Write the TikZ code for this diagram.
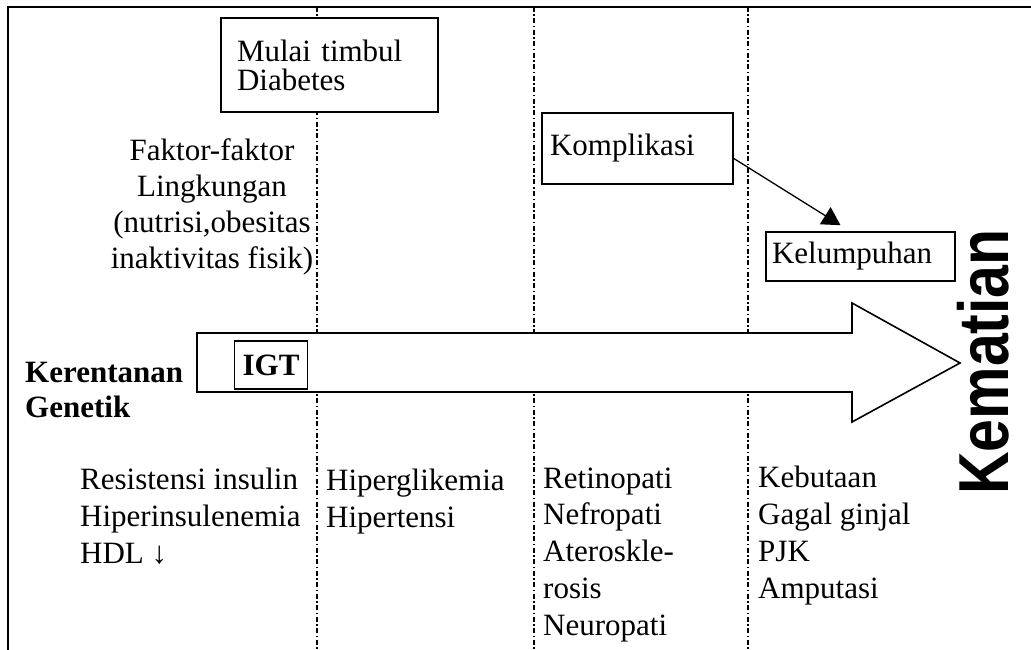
\documentclass[tikz,border=0pt]{standalone}
\usepackage{fontspec}
\setmainfont{Liberation Serif}
\newfontfamily\kemfont{Liberation Sans}
\usetikzlibrary{arrows.meta}
\begin{document}
\begin{tikzpicture}[x=1pt,y=-1pt,
  txt/.style={font=\fontsize{31}{36.7}\selectfont, inner sep=0pt, align=left},
  boxn/.style={draw, line width=1.6pt, fill=white, font=\fontsize{31}{29}\selectfont, align=left, inner sep=0pt},
  guide/.style={line width=1.4pt, dash pattern=on 5pt off 2.5pt on 1.5pt off 2.5pt},
  frame/.style={line width=2pt}]
\useasboundingbox (0,0) rectangle (1031,650);
% frame
\coordinate (tl) at (8,7);
\coordinate (tr) at (1031,7);
\coordinate (bl) at (8,650);
\draw[frame] (bl) -- (tl) -- (tr);
% guide lines
\foreach \gx/\gn in {317/ga,534/gb,748/gc}{
  \coordinate (\gn t) at (\gx,7);
  \coordinate (\gn b) at (\gx,650);
  \draw[guide] (\gn t) -- (\gn b);
}
% big arrow
\draw[line width=1.6pt, fill=white] (197,333) -- (852,333) -- (852,303) -- (960,363) -- (852,422) -- (852,392) -- (197,392) -- cycle;
% boxes
\node[boxn, minimum width=217pt, minimum height=94pt, text width=185pt] (mulai) at (329.5,65) {Mulai timbul\\Diabetes};
\node[boxn, minimum width=191pt, minimum height=71pt, text width=175pt] (komp) at (637.5,148.5) {Komplikasi};
\node[boxn, minimum width=189pt, minimum height=49pt, text width=177pt] (kel) at (860.5,256.5) {Kelumpuhan};
\node[boxn, minimum width=73pt, minimum height=48pt, align=center, font=\fontsize{31}{31}\selectfont\bfseries] (igt) at (271,365) {IGT};
\draw[line width=1.3pt, -{Triangle[length=18pt,width=20pt]}] ([yshift=-10pt]komp.east) -- ([xshift=-20pt,yshift=6pt]kel.north);
% texts (base anchor = baseline of last line)
\node[txt, align=center, anchor=base, font=\fontsize{31}{36}\selectfont] (faktor) at (212,268) {Faktor-faktor\\Lingkungan\\(nutrisi,obesitas\\inaktivitas fisik)};
\node[txt, anchor=base west, font=\fontsize{31}{35}\selectfont\bfseries] (gen) at (25,417) {Kerentanan\\Genetik};
\node[txt, anchor=base west] (c1) at (80,563) {Resistensi insulin\\Hiperinsulenemia\\HDL ↓};
\node[txt, anchor=base west] (c2) at (326,527) {Hiperglikemia\\Hipertensi};
\node[txt, anchor=base west] (c3) at (543,635) {Retinopati\\Nefropati\\Ateroskle-\\rosis\\Neuropati};
\node[txt, anchor=base west] (c4) at (758,598) {Kebutaan\\Gagal ginjal\\PJK\\Amputasi};
\node[rotate=90, anchor=base west, inner sep=0pt] (kem) at (1008,495) {\scalebox{1}[1.2]{\kemfont\bfseries\fontsize{59}{59}\selectfont Kematian}};
\end{tikzpicture}
\end{document}
